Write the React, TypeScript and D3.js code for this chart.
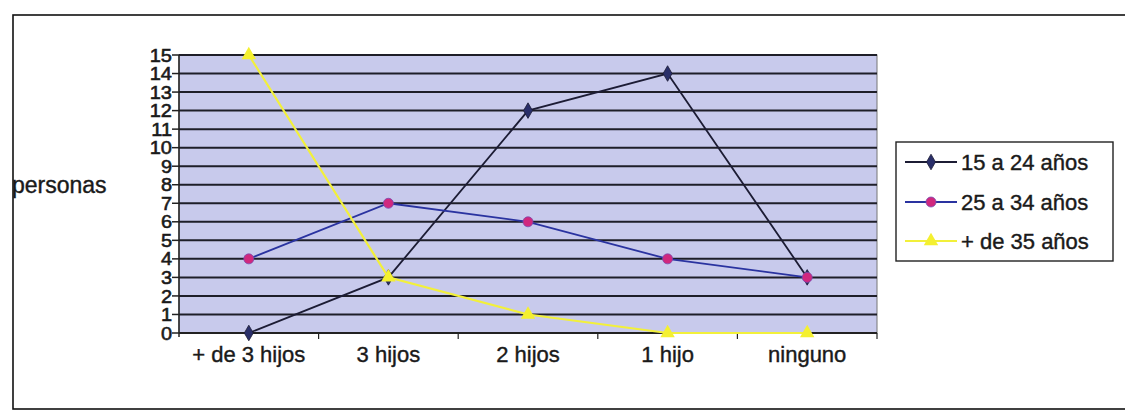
import React from "react";
import * as d3 from "d3";

const categories = ["+ de 3 hijos", "3 hijos", "2 hijos", "1 hijo", "ninguno"];
const seriesNames = ["15 a 24 años", "25 a 34 años", "+ de 35 años"];
const young = [0, 3, 12, 14, 3];
const middle = [4, 7, 6, 4, 3];
const older = [15, 3, 1, 0, 0];
const yTicks = d3.range(0, 16);

const W = 1125;
const H = 411;
const plot = { left: 179, right: 877, top: 55, bottom: 333 };
const font = "'Liberation Sans', Arial, sans-serif";
const ink = "#1a1a1a";

const styles = [
  { line: "#1c1c34", marker: "diamond", fill: "#2a2f6a" },
  { line: "#2a33a0", marker: "circle", fill: "#d0287e" },
  { line: "#f2f03a", marker: "triangle", fill: "#f4f030" },
];

const Marker = ({ kind, x, y, fill }: { kind: string; x: number; y: number; fill: string }) => {
  if (kind === "diamond") {
    const p = d3.symbol(d3.symbolDiamond, 70)();
    return <path d={p || ""} transform={`translate(${x},${y})`} fill={fill} stroke="#1c1c34" strokeWidth={0.8} />;
  }
  if (kind === "circle") {
    return <circle cx={x} cy={y} r={5} fill={fill} stroke="#7a4ab0" strokeWidth={0.8} />;
  }
  const p = d3.symbol(d3.symbolTriangle, 90)();
  return <path d={p || ""} transform={`translate(${x},${y})`} fill={fill} />;
};

export default function App() {
  const x = d3
    .scaleBand<string>()
    .domain(categories)
    .range([plot.left, plot.right]);
  const y = d3.scaleLinear().domain([0, 15]).range([plot.bottom, plot.top]);
  const cx = (c: string) => (x(c) || 0) + x.bandwidth() / 2;

  const line = d3
    .line<number>()
    .x((_, i) => cx(categories[i]))
    .y((d) => y(d));

  const data = [young, middle, older];
  const legendY = [162, 202, 241];

  return (
    <svg width={W} height={H} style={{ position: "absolute", left: 0, top: 0, background: "#fff" }}>
      <rect x={13} y={15} width={W} height={394} fill="#fff" stroke="#111" strokeWidth={1.6} />
      <rect
        x={plot.left}
        y={plot.top}
        width={plot.right - plot.left}
        height={plot.bottom - plot.top}
        fill="#c8caec"
        stroke="#777"
        strokeWidth={1}
      />
      {yTicks.map((t) => (
        <g key={t}>
          {t > 0 && (
            <line x1={plot.left} x2={plot.right} y1={y(t)} y2={y(t)} stroke="#1e1e28" strokeWidth={2} />
          )}
          <line x1={plot.left - 7} x2={plot.left} y1={y(t)} y2={y(t)} stroke="#222" strokeWidth={1.5} />
          <text
            x={172}
            y={y(t)}
            dy="0.36em"
            textAnchor="end"
            fontFamily={font}
            fontSize={16}
            fill={ink}
            stroke={ink}
            strokeWidth={0.5}
            transform={`translate(172,${y(t)}) scale(1.25,1.15) translate(-172,${-y(t)})`}
          >
            {t}
          </text>
        </g>
      ))}
      <line x1={plot.left} x2={plot.left} y1={plot.top} y2={plot.bottom + 4} stroke="#222" strokeWidth={1.5} />
      <line x1={plot.left} x2={plot.right} y1={plot.bottom} y2={plot.bottom} stroke="#222" strokeWidth={2} />
      {categories.map((c, i) => (
        <g key={c}>
          {i > 0 && (
            <line
              x1={x(c) || 0}
              x2={x(c) || 0}
              y1={plot.bottom}
              y2={plot.bottom + 6}
              stroke="#222"
              strokeWidth={1.2}
            />
          )}
          <text x={cx(c)} y={362} textAnchor="middle" fontFamily={font} fontSize={22} fill={ink} stroke={ink} strokeWidth={0.4}>
            {c}
          </text>
        </g>
      ))}
      <line x1={plot.right} x2={plot.right} y1={plot.bottom} y2={plot.bottom + 6} stroke="#222" strokeWidth={1.2} />
      <text x={12} y={193} fontFamily={font} fontSize={23} fill={ink} stroke={ink} strokeWidth={0.4}>
        personas
      </text>

      {data.map((vals, si) => (
        <g key={si}>
          <path d={line(vals) || ""} fill="none" stroke={styles[si].line} strokeWidth={si === 2 ? 2.2 : 1.8} />
          {vals.map((v, i) => (
            <Marker key={i} kind={styles[si].marker} x={cx(categories[i])} y={y(v)} fill={styles[si].fill} />
          ))}
        </g>
      ))}

      <rect x={896} y={142} width={217} height={119} fill="#fff" stroke="#222" strokeWidth={1.4} />
      {seriesNames.map((n, i) => (
        <g key={n}>
          <line x1={905} x2={957} y1={legendY[i]} y2={legendY[i]} stroke={styles[i].line} strokeWidth={i === 2 ? 2.2 : 1.8} />
          <Marker kind={styles[i].marker} x={931} y={legendY[i]} fill={styles[i].fill} />
          <text x={961} y={legendY[i]} dy="0.36em" fontFamily={font} fontSize={22} fill={ink} stroke={ink} strokeWidth={0.4}>
            {n}
          </text>
        </g>
      ))}
    </svg>
  );
}
